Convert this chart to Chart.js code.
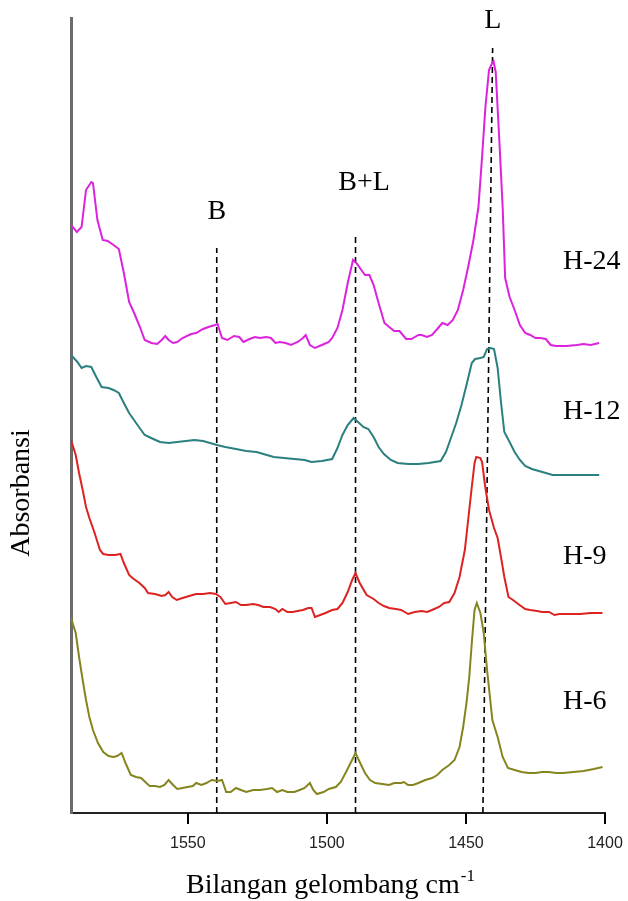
<!DOCTYPE html>
<html>
<head>
<meta charset="utf-8">
<script src="https://cdn.jsdelivr.net/npm/chart.js@4"></script>
<style>
  body { margin: 0; background: #fff; }
  canvas { display: block; }
</style>
</head>
<body>
<canvas id="ftirChart" width="628" height="901"></canvas>
<script>
// FTIR pyridine adsorption spectra, wavenumber (cm-1) vs absorbance (a.u., stacked offsets)
const h24 = [[1592,588],[1589.9,581],[1588.2,586],[1586.6,623],[1584.7,631],[1584.1,630],[1582.5,593],[1580.6,573],[1578.8,572],[1576.7,568],[1574.8,564],[1573,540],[1571.1,511],[1569.3,500],[1567.2,486],[1565.5,473],[1563.1,470],[1561,469],[1559.4,473],[1558.1,477],[1556.9,473],[1555.3,470],[1553.8,471],[1551.9,475],[1548.8,479],[1547,480],[1544.5,484],[1542.6,486],[1540.2,488],[1539.3,489],[1537.7,475],[1535.8,473],[1533.4,477],[1531.5,476],[1530,471],[1527.8,474],[1525.9,476],[1524.1,475],[1521.8,476],[1520.1,475],[1518.5,470],[1516.9,471],[1514.8,470],[1512.9,468],[1510.5,471],[1508.6,475],[1507.6,478],[1506.1,468],[1504.3,465],[1501.8,468],[1499.3,471],[1498.1,475],[1496.2,485],[1494.4,503],[1492.5,530],[1490.6,553],[1489.4,550],[1487.6,543],[1486.3,538],[1484.7,538],[1483.2,528],[1481.4,510],[1479.3,490],[1477.6,486],[1475.8,482],[1473.9,482],[1471.5,474],[1469.6,474],[1467.1,478],[1465.9,478],[1464,476],[1462.2,478],[1460.3,484],[1458.5,490],[1456.6,488],[1454.7,493],[1452.9,503],[1451,523],[1449.2,546],[1447.3,573],[1445.5,606],[1444.2,656],[1443,706],[1441.7,743],[1440.9,748],[1440.1,752],[1439.3,741],[1438,673],[1436.8,606],[1435.9,535],[1434.3,516],[1432.5,503],[1430.6,488],[1428.7,480],[1426.9,478],[1425,475],[1423.2,475],[1421.3,474],[1419.5,468],[1417.6,467],[1413.9,467],[1410.2,468],[1407.7,469],[1405.2,468],[1402.1,470]];

const h12 = [[1592,458],[1589.7,451],[1588.2,445],[1586.6,447],[1584.7,446],[1582.9,436],[1581,426],[1578.5,425],[1576.7,423],[1574.8,420],[1573,410],[1571.1,400],[1568.6,390],[1565.5,378],[1562.4,374],[1560,371],[1556.9,370],[1553.8,371],[1550.7,372],[1547.6,373],[1544.5,372],[1542,370],[1539.5,368],[1536.5,366],[1532.7,364],[1529,362],[1525.3,361],[1521.6,358],[1519.1,356],[1515.4,355],[1511.7,354],[1508,353],[1505.5,351],[1501.8,352],[1498.1,354],[1496.2,365],[1494.4,378],[1492.5,388],[1490.4,395],[1488.8,391],[1486.9,386],[1485.1,384],[1483.2,376],[1481.4,366],[1479.5,359],[1477,353],[1474.6,350],[1470.8,349],[1467.1,349],[1463.4,350],[1459.1,352],[1457.2,361],[1455.4,375],[1453.5,390],[1451.6,408],[1449.8,428],[1447.9,450],[1446.7,454],[1444.8,455],[1443.6,456],[1442.4,464],[1441.1,465],[1439.9,464],[1438.6,445],[1437.4,411],[1436.2,381],[1434.3,371],[1432.5,361],[1430.6,353],[1428.7,347],[1426.3,344],[1423.8,342],[1421.3,340],[1418.8,338],[1415.1,338],[1410.2,338],[1402.1,338]];

const h9 = [[1592,373],[1590.3,358],[1589.1,340],[1587.8,323],[1586.6,306],[1585.4,295],[1583.5,280],[1581.6,263],[1580.4,259],[1578.5,258],[1576.1,258],[1574.2,259],[1573,250],[1571.1,238],[1569.9,235],[1567.4,230],[1565.5,225],[1564.3,220],[1561.8,219],[1559.4,217],[1558.1,218],[1556.9,221],[1555.6,216],[1554,213],[1551.9,215],[1549.5,217],[1547,219],[1544.5,219],[1542,220],[1539.9,219],[1538.3,216],[1536.5,209],[1534.6,210],[1532.7,211],[1530.9,208],[1529,208],[1526.5,209],[1524.7,208],[1522.8,206],[1520.4,206],[1518.5,204],[1517.3,201],[1516,204],[1514.2,201],[1512.3,201],[1510.5,202],[1508.6,203],[1506.7,205],[1505.5,205],[1504.3,196],[1502.4,198],[1500.5,200],[1498.1,203],[1496.2,204],[1494.4,210],[1492.5,221],[1490.9,233],[1489.7,240],[1488.2,230],[1485.7,218],[1483.2,214],[1481.4,210],[1479.5,207],[1477.6,205],[1475.2,204],[1473.3,203],[1470.8,199],[1468.4,201],[1465.9,202],[1464,201],[1462.2,203],[1459.7,206],[1457.8,210],[1456,211],[1454.1,220],[1452.3,236],[1450.4,263],[1449.2,293],[1447.9,326],[1446.9,350],[1446.3,356],[1444.8,355],[1444.2,351],[1443,325],[1441.7,303],[1439.9,285],[1438.6,275],[1437.4,256],[1436.2,236],[1434.7,216],[1433.1,213],[1431.2,209],[1428.7,204],[1426.9,203],[1424.4,202],[1422.6,201],[1420.1,201],[1418.2,198],[1416.4,199],[1412.7,199],[1408.9,199],[1405.2,200],[1400.9,200]];

const h6 = [[1592,195],[1590.3,180],[1589.1,156],[1587.8,133],[1586.6,113],[1585.4,96],[1584.1,83],[1582.3,70],[1580.4,61],[1578.5,57],[1576.7,56],[1575.4,57],[1573.8,60],[1572.4,50],[1570.5,38],[1568.6,36],[1566.8,35],[1564.9,30],[1563.7,27],[1561.8,27],[1560,26],[1558.4,28],[1556.9,33],[1555.3,28],[1553.8,24],[1551.9,25],[1550.1,26],[1548.2,27],[1547,30],[1545.1,28],[1543.3,30],[1541.4,33],[1539.3,32],[1537.7,33],[1536.2,21],[1534.6,21],[1532.7,25],[1530.9,23],[1529,21],[1526.5,23],[1524.1,23],[1521.6,24],[1519.7,25],[1517.9,21],[1516,23],[1514.2,21],[1511.7,21],[1509.8,23],[1508,25],[1506.1,30],[1504.9,23],[1503.6,19],[1501.2,21],[1499.3,24],[1496.8,26],[1495,31],[1493.1,41],[1491.3,51],[1489.7,60],[1488.2,51],[1486.3,40],[1484.5,33],[1482.6,30],[1480.1,29],[1477.6,28],[1475.8,30],[1473.3,30],[1472.3,31],[1470.8,28],[1469,28],[1467.1,30],[1464.6,33],[1462.2,35],[1460.3,38],[1458.5,43],[1456,48],[1454.1,53],[1452.3,66],[1451,86],[1449.8,110],[1448.8,136],[1447.9,170],[1446.9,203],[1446.1,210],[1444.8,200],[1443.6,180],[1442.4,143],[1440.5,93],[1438.6,76],[1436.8,56],[1434.9,45],[1432.5,43],[1430,41],[1427.5,40],[1425,40],[1422.6,41],[1420.1,41],[1417.6,40],[1415.1,40],[1411.4,41],[1407.7,42],[1404,44],[1400.9,46]];

const seriesNames = ['H-24', 'H-12', 'H-9', 'H-6'];
const seriesColors = ['#dd22dd', '#2a7f7f', '#dd2222', '#85851f'];

// peak assignments: B (Bronsted), B+L, L (Lewis); [wavenumber at bottom, wavenumber at top, top height]
const peakNames = ['B', 'B+L', 'L'];
const peakLines = [[1539.6, 1539.6, 565], [1489.7, 1489.7, 576], [1443.9, 1440.4, 765]];

const tickValues = [1550, 1500, 1450, 1400];

const toXY = arr => arr.map(p => ({ x: p[0], y: p[1] }));

const datasets = [h24, h12, h9, h6].map((s, i) => ({
  label: seriesNames[i],
  data: toXY(s),
  borderColor: seriesColors[i],
  borderWidth: 2,
  pointRadius: 0,
  tension: 0,
  fill: false
}));

peakLines.forEach((l, i) => {
  datasets.push({
    label: peakNames[i],
    data: [{ x: l[0], y: 0 }, { x: l[1], y: l[2] }],
    borderColor: '#000',
    borderWidth: 1.6,
    borderDash: [6, 4],
    pointRadius: 0,
    fill: false
  });
});

const labelsPlugin = {
  id: 'labels',
  afterDraw(chart) {
    const { ctx, scales: { x, y } } = chart;
    ctx.save();

    // tick marks below the x axis
    const axisY = y.getPixelForValue(0);
    ctx.strokeStyle = '#000';
    ctx.lineWidth = 2;
    ctx.setLineDash([]);
    ctx.beginPath();
    tickValues.forEach(v => {
      const px = Math.round(x.getPixelForValue(v));
      ctx.moveTo(px, axisY);
      ctx.lineTo(px, axisY + 11);
    });
    ctx.stroke();

    ctx.fillStyle = '#000';
    ctx.font = '28px "Liberation Serif", "Times New Roman", serif';
    ctx.textBaseline = 'middle';

    // peak labels above dashed lines
    const peakLabelAt = [[1539.6, 601], [1486.6, 630], [1440.3, 792]];
    ctx.textAlign = 'center';
    peakNames.forEach((n, i) => {
      ctx.fillText(n, x.getPixelForValue(peakLabelAt[i][0]), y.getPixelForValue(peakLabelAt[i][1]));
    });

    // series labels on the right
    const seriesLabelY = [551, 401, 256, 111];
    ctx.textAlign = 'left';
    seriesNames.forEach((n, i) => {
      ctx.fillText(n, x.getPixelForValue(1415.1), y.getPixelForValue(seriesLabelY[i]));
    });

    // y title
    ctx.save();
    ctx.translate(22, 493);
    ctx.rotate(-Math.PI / 2);
    ctx.textAlign = 'center';
    ctx.fillText('Absorbansi', 0, 0);
    ctx.restore();

    // x title with superscript
    const main = 'Bilangan gelombang cm';
    const sup = '-1';
    ctx.textBaseline = 'alphabetic';
    ctx.font = '28px "Liberation Serif", "Times New Roman", serif';
    const wMain = ctx.measureText(main).width;
    ctx.font = '17px "Liberation Serif", "Times New Roman", serif';
    const wSup = ctx.measureText(sup).width;
    const startX = 330 - (wMain + wSup) / 2;
    ctx.font = '28px "Liberation Serif", "Times New Roman", serif';
    ctx.textAlign = 'left';
    ctx.fillText(main, startX, 893);
    ctx.font = '17px "Liberation Serif", "Times New Roman", serif';
    ctx.fillText(sup, startX + wMain + 1, 881);
    ctx.restore();
  }
};

new Chart(document.getElementById('ftirChart').getContext('2d'), {
  type: 'line',
  data: { datasets },
  options: {
    responsive: false,
    animation: false,
    devicePixelRatio: 1,
    layout: { padding: { top: 18, right: 23, left: 0, bottom: 0 } },
    plugins: { legend: { display: false }, tooltip: { enabled: false } },
    scales: {
      x: {
        type: 'linear',
        reverse: true,
        min: 1400,
        max: 1592,
        afterBuildTicks: s => { s.ticks = tickValues.map(v => ({ value: v })); },
        afterFit: s => { s.height = 88; s.paddingLeft = 0; s.paddingRight = 0; },
        border: { display: true, color: '#222', width: 2 },
        grid: { display: false },
        ticks: {
          color: '#222',
          padding: 13,
          maxRotation: 0,
          callback: v => String(v),
          font: { family: '"Liberation Sans", Arial, sans-serif', size: 16 }
        }
      },
      y: {
        min: 0,
        max: 795,
        afterFit: s => { s.width = 71; },
        border: { display: true, color: '#6b6b6b', width: 3 },
        grid: { display: false },
        ticks: { display: false }
      }
    }
  },
  plugins: [labelsPlugin]
});
</script>
</body>
</html>
